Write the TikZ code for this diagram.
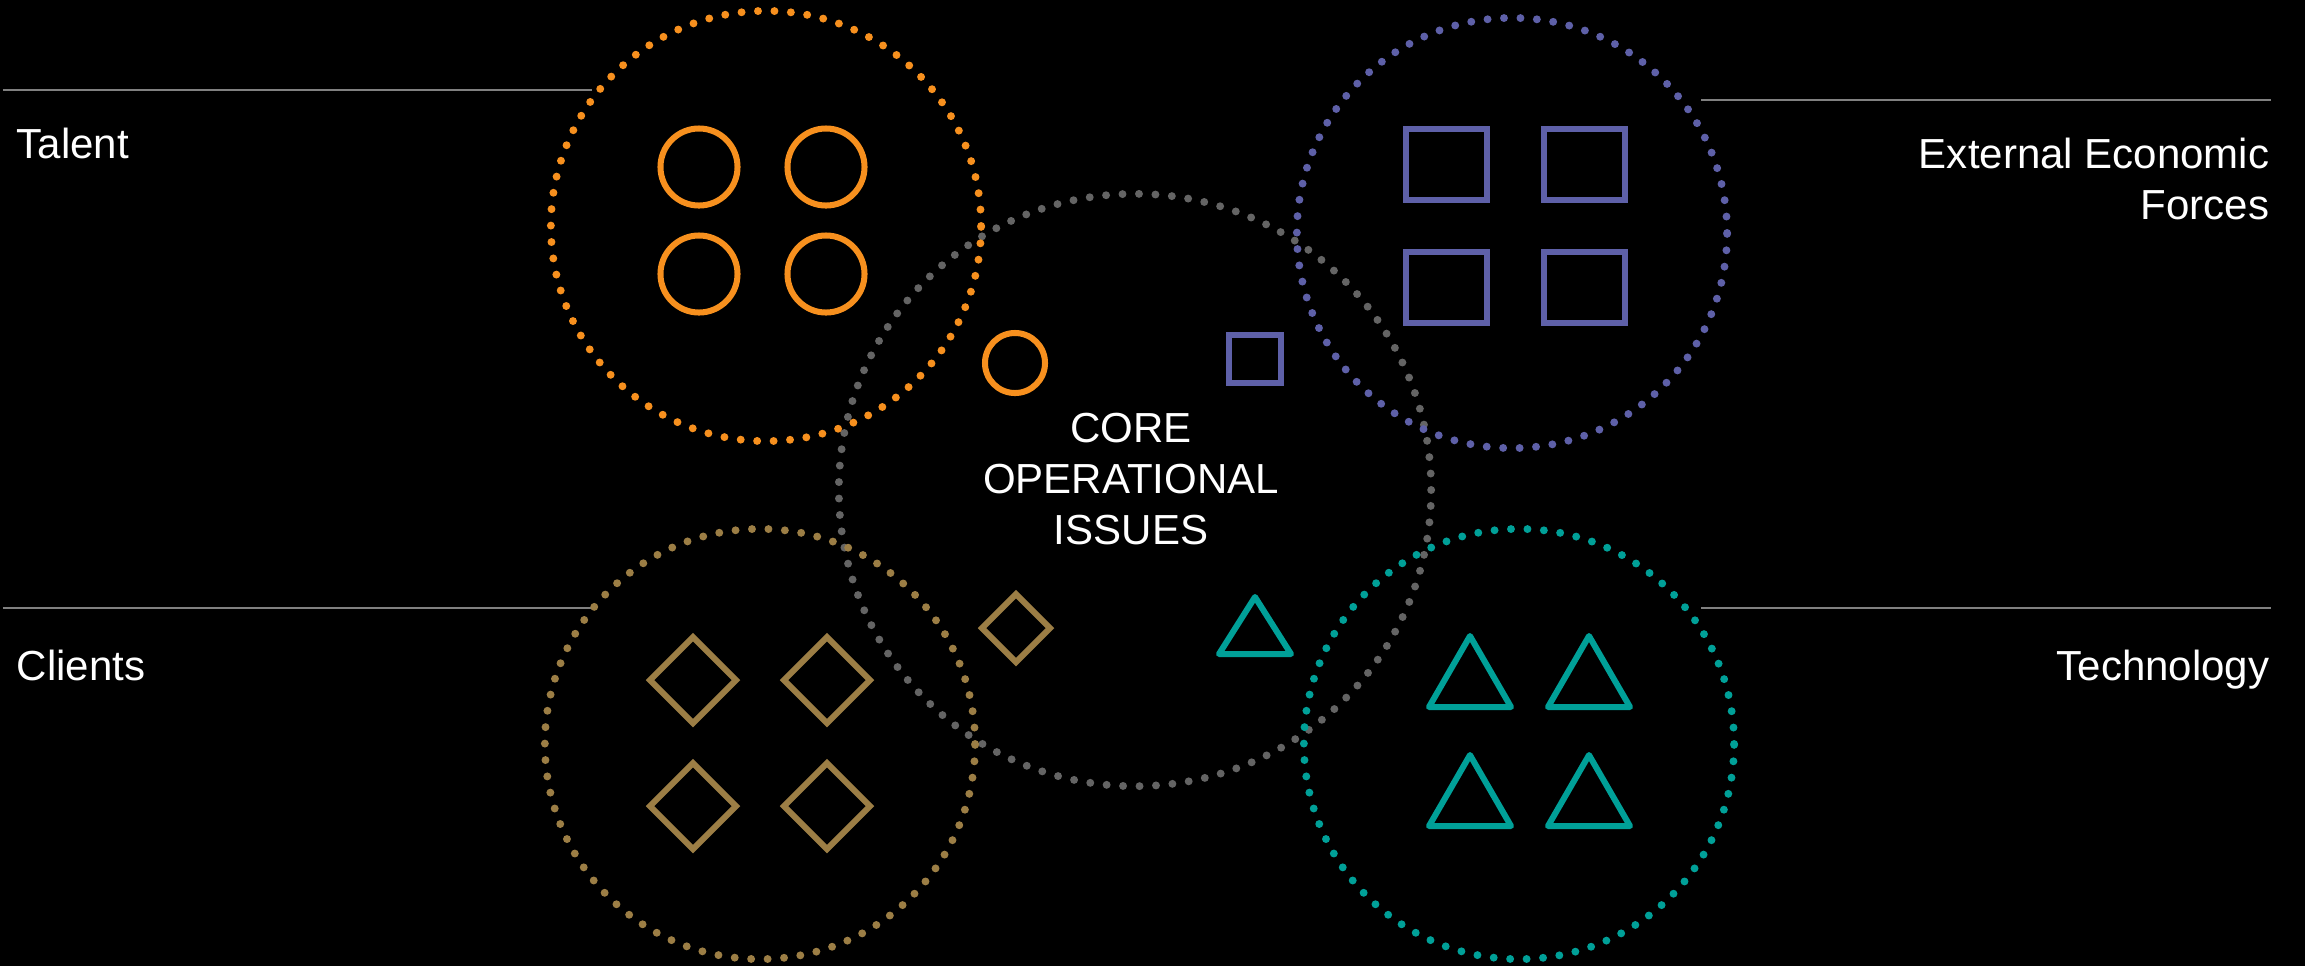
\documentclass[tikz,border=0pt]{standalone}
\usepackage{fontspec}
\setmainfont{Liberation Sans}
\definecolor{cOrange}{RGB}{247,144,30}
\definecolor{cPurple}{RGB}{94,96,168}
\definecolor{cTan}{RGB}{156,126,69}
\definecolor{cTeal}{RGB}{0,160,152}
\definecolor{cDot}{RGB}{100,100,100}
\definecolor{cRule}{RGB}{128,128,128}
\begin{document}
\begin{tikzpicture}[x=0.01cm,y=-0.01cm,
  dotring/.style={line width=2.25pt,line cap=round,dash pattern=on 0pt off 4.685pt},
  shp/.style={line width=1.71pt,line join=miter},
  tri/.style={line width=1.71pt,line join=round},
  rulel/.style={cRule,line width=0.6pt},
  lbl/.style={text=white,inner sep=0pt,font=\fontsize{11.95pt}{14.5pt}\selectfont},
]
\fill[black] (0,0) rectangle (2305,966);
\useasboundingbox (0,0) rectangle (2305,966);

% rules
\coordinate (tl1) at (3,90);   \coordinate (tl2) at (592,90);
\coordinate (cl1) at (3,608);  \coordinate (cl2) at (593,608);
\coordinate (el1) at (1701,100); \coordinate (el2) at (2271,100);
\coordinate (te1) at (1701,608); \coordinate (te2) at (2271,608);
\draw[rulel] (tl1) -- (tl2);
\draw[rulel] (cl1) -- (cl2);
\draw[rulel] (el1) -- (el2);
\draw[rulel] (te1) -- (te2);

% core ring
\draw[dotring,cDot] (1135,490) circle[radius=2.96cm];
% outer rings
\draw[dotring,cOrange] (766,226) circle[radius=2.15cm];
\draw[dotring,cPurple] (1512,233) circle[radius=2.15cm];
\draw[dotring,cTan] (760,744) circle[radius=2.15cm];
\draw[dotring,cTeal] (1519,744) circle[radius=2.15cm];

% talent circles
\foreach \cx/\cy in {699/167,826/167,699/274,826/274}
  \draw[shp,cOrange] (\cx,\cy) circle[radius=0.385cm];
\draw[shp,cOrange] (1015,363) circle[radius=0.30cm];

% external squares
\foreach \cx/\cy in {1446.5/164.5,1584.5/164.5,1446.5/287.5,1584.5/287.5}
  \draw[shp,cPurple] (\cx-40.5,\cy-35.5) rectangle (\cx+40.5,\cy+35.5);
\draw[shp,cPurple] (1228.5,334.5) rectangle (1280.5,382.5);

% client diamonds
\foreach \cx/\cy in {693/680,827/680,693/806,827/806}
  \draw[shp,cTan] (\cx,\cy-43) -- (\cx+43,\cy) -- (\cx,\cy+43) -- (\cx-43,\cy) -- cycle;
\draw[shp,cTan] (1016,594) -- (1050,628) -- (1016,662) -- (982,628) -- cycle;

% technology triangles
\foreach \cx/\ty in {1470/636,1589/636,1470/755,1589/755}
  \draw[tri,cTeal] (\cx,\ty) -- (\cx+41,\ty+71) -- (\cx-41,\ty+71) -- cycle;
\draw[tri,cTeal] (1255,597) -- (1291,654) -- (1219,654) -- cycle;

% labels
\node[lbl,anchor=base west] (talent) at (16,158) {Talent};
\node[lbl,anchor=base west] (clients) at (16,680) {Clients};
\node[lbl,anchor=base east] (ext1) at (2270,168) {External Economic};
\node[lbl,anchor=base east] (ext2) at (2270,219) {Forces};
\node[lbl,anchor=base east] (tech) at (2270,680) {Technology};
\node[lbl,anchor=base] (core1) at (1131,442) {CORE};
\node[lbl,anchor=base] (core2) at (1131,493) {OPERATIONAL};
\node[lbl,anchor=base] (core3) at (1131,544) {ISSUES};
\end{tikzpicture}
\end{document}
